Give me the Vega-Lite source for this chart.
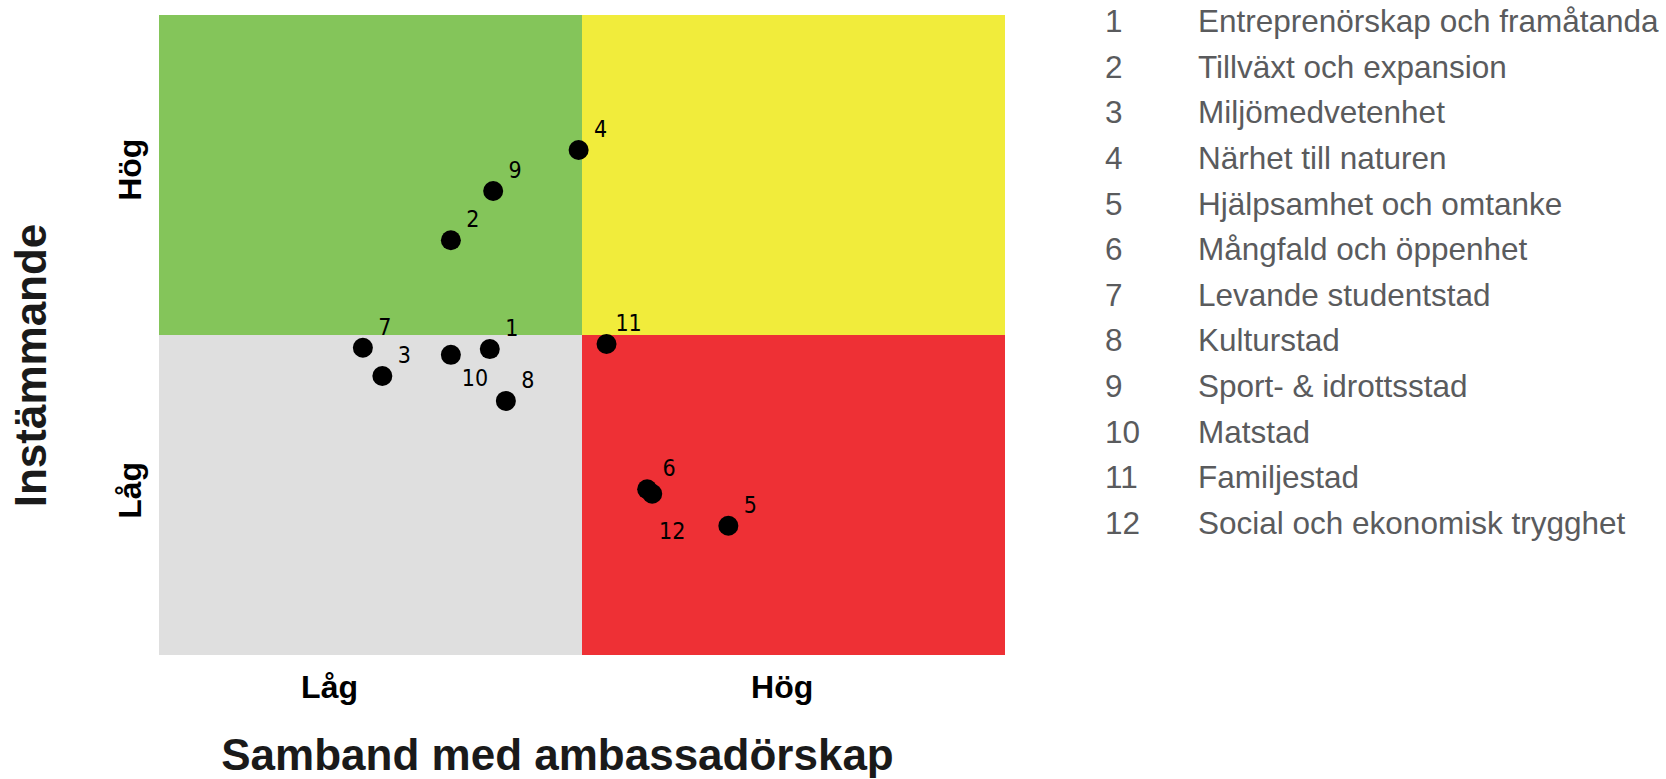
{
  "$schema": "https://vega.github.io/schema/vega-lite/v6.json",
  "background": "white",
  "padding": {"left": 10, "top": 7, "right": 0, "bottom": 0},
  "config": {"view": {"stroke": null}, "concat": {"spacing": 100}},
  "datasets": {
    "kvadranter": [
      {"kvadrant": "Låg-Hög", "x0": 0, "x1": 5, "y0": 5, "y1": 10},
      {"kvadrant": "Hög-Hög", "x0": 5, "x1": 10, "y0": 5, "y1": 10},
      {"kvadrant": "Låg-Låg", "x0": 0, "x1": 5, "y0": 0, "y1": 5},
      {"kvadrant": "Hög-Låg", "x0": 5, "x1": 10, "y0": 0, "y1": 5}
    ],
    "punkter": [
      {"id": 1, "namn": "Entreprenörskap och framåtanda", "samband": 3.91, "instammande": 4.78},
      {"id": 2, "namn": "Tillväxt och expansion", "samband": 3.45, "instammande": 6.48},
      {"id": 3, "namn": "Miljömedvetenhet", "samband": 2.64, "instammande": 4.36},
      {"id": 4, "namn": "Närhet till naturen", "samband": 4.96, "instammande": 7.89},
      {"id": 5, "namn": "Hjälpsamhet och omtanke", "samband": 6.73, "instammande": 2.02},
      {"id": 6, "namn": "Mångfald och öppenhet", "samband": 5.77, "instammande": 2.59},
      {"id": 7, "namn": "Levande studentstad", "samband": 2.41, "instammande": 4.80},
      {"id": 8, "namn": "Kulturstad", "samband": 4.10, "instammande": 3.97},
      {"id": 9, "namn": "Sport- & idrottsstad", "samband": 3.95, "instammande": 7.25},
      {"id": 10, "namn": "Matstad", "samband": 3.45, "instammande": 4.69},
      {"id": 11, "namn": "Familjestad", "samband": 5.29, "instammande": 4.86},
      {"id": 12, "namn": "Social och ekonomisk trygghet", "samband": 5.83, "instammande": 2.52}
    ]
  },
  "hconcat": [
    {
      "width": 846,
      "height": 640,
      "layer": [
        {
          "data": {"name": "kvadranter"},
          "mark": {"type": "rect"},
          "encoding": {
            "x": {"field": "x0", "type": "quantitative"},
            "x2": {"field": "x1"},
            "y": {"field": "y0", "type": "quantitative"},
            "y2": {"field": "y1"},
            "color": {
              "field": "kvadrant", "type": "nominal", "legend": null,
              "scale": {"domain": ["Låg-Hög", "Hög-Hög", "Låg-Låg", "Hög-Låg"], "range": ["#84C55A", "#F1EC3B", "#DFDFDF", "#EE3035"]}
            }
          }
        },
        {
          "data": {"name": "punkter"},
          "mark": {"type": "circle", "size": 400, "opacity": 1, "color": "black"},
          "encoding": {
            "x": {"field": "samband", "type": "quantitative"},
            "y": {"field": "instammande", "type": "quantitative"}
          }
        },
        {
          "data": {"name": "punkter"},
          "transform": [{"filter": "datum.id != 10 && datum.id != 12"}],
          "mark": {"type": "text", "font": "DejaVu Sans Condensed", "fontSize": 23, "color": "black", "align": "center", "baseline": "middle", "dx": 22, "dy": -20},
          "encoding": {
            "x": {"field": "samband", "type": "quantitative"},
            "y": {"field": "instammande", "type": "quantitative"},
            "text": {"field": "id", "type": "nominal"}
          }
        },
        {
          "data": {"name": "punkter"},
          "transform": [{"filter": "datum.id == 10"}],
          "mark": {"type": "text", "font": "DejaVu Sans Condensed", "fontSize": 23, "color": "black", "align": "center", "baseline": "middle", "dx": 24, "dy": 24},
          "encoding": {
            "x": {"field": "samband", "type": "quantitative"},
            "y": {"field": "instammande", "type": "quantitative"},
            "text": {"field": "id", "type": "nominal"}
          }
        },
        {
          "data": {"name": "punkter"},
          "transform": [{"filter": "datum.id == 12"}],
          "mark": {"type": "text", "font": "DejaVu Sans Condensed", "fontSize": 23, "color": "black", "align": "center", "baseline": "middle", "dx": 20, "dy": 38},
          "encoding": {
            "x": {"field": "samband", "type": "quantitative"},
            "y": {"field": "instammande", "type": "quantitative"},
            "text": {"field": "id", "type": "nominal"}
          }
        }
      ],
      "resolve": {"scale": {"color": "independent"}},
      "encoding": {
        "x": {
          "type": "quantitative",
          "scale": {"domain": [0, 10], "nice": false, "zero": false},
          "axis": {
            "title": "Samband med ambassadörskap",
            "values": [2.01, 7.36],
            "labelExpr": "datum.value > 5 ? 'Hög' : 'Låg'",
            "domain": false, "ticks": false, "grid": false,
            "labelFont": "Liberation Sans", "labelFontWeight": "bold", "labelFontSize": 32, "labelColor": "black",
            "labelPadding": 17,
            "titleFont": "Liberation Sans", "titleFontWeight": "bold", "titleFontSize": 44, "titleColor": "#1a1a1a",
            "titlePadding": 31,
            "titleX": 398
          }
        },
        "y": {
          "type": "quantitative",
          "scale": {"domain": [0, 10], "nice": false, "zero": false},
          "axis": {
            "title": "Instämmande",
            "values": [2.58, 7.59],
            "labelExpr": "datum.value > 5 ? 'Hög' : 'Låg'",
            "labelAngle": -90,
            "domain": false, "ticks": false, "grid": false,
            "labelFont": "Liberation Sans", "labelFontWeight": "bold", "labelFontSize": 32, "labelColor": "black",
            "labelPadding": 12,
            "titleFont": "Liberation Sans", "titleFontWeight": "bold", "titleFontSize": 44, "titleColor": "#1a1a1a",
            "titlePadding": 60,
            "titleY": 350
          }
        }
      }
    },
    {
      "width": 93,
      "height": 514,
      "data": {"name": "punkter"},
      "layer": [
        {
          "mark": {"type": "text", "font": "Liberation Sans", "fontSize": 31.5, "color": "#5A5B5D", "align": "left", "baseline": "middle", "dy": 2},
          "encoding": {
            "x": {"datum": "nr", "type": "nominal", "scale": {"type": "point", "domain": ["nr", "namn"], "padding": 0}, "axis": null},
            "y": {"field": "id", "type": "ordinal", "scale": {"type": "point", "padding": 0.132}, "axis": null},
            "text": {"field": "id", "type": "nominal"}
          }
        },
        {
          "mark": {"type": "text", "font": "Liberation Sans", "fontSize": 31.5, "color": "#5A5B5D", "align": "left", "baseline": "middle", "dy": 2},
          "encoding": {
            "x": {"datum": "namn", "type": "nominal", "scale": {"type": "point", "domain": ["nr", "namn"], "padding": 0}, "axis": null},
            "y": {"field": "id", "type": "ordinal", "scale": {"type": "point", "padding": 0.132}, "axis": null},
            "text": {"field": "namn", "type": "nominal"}
          }
        }
      ]
    }
  ]
}
